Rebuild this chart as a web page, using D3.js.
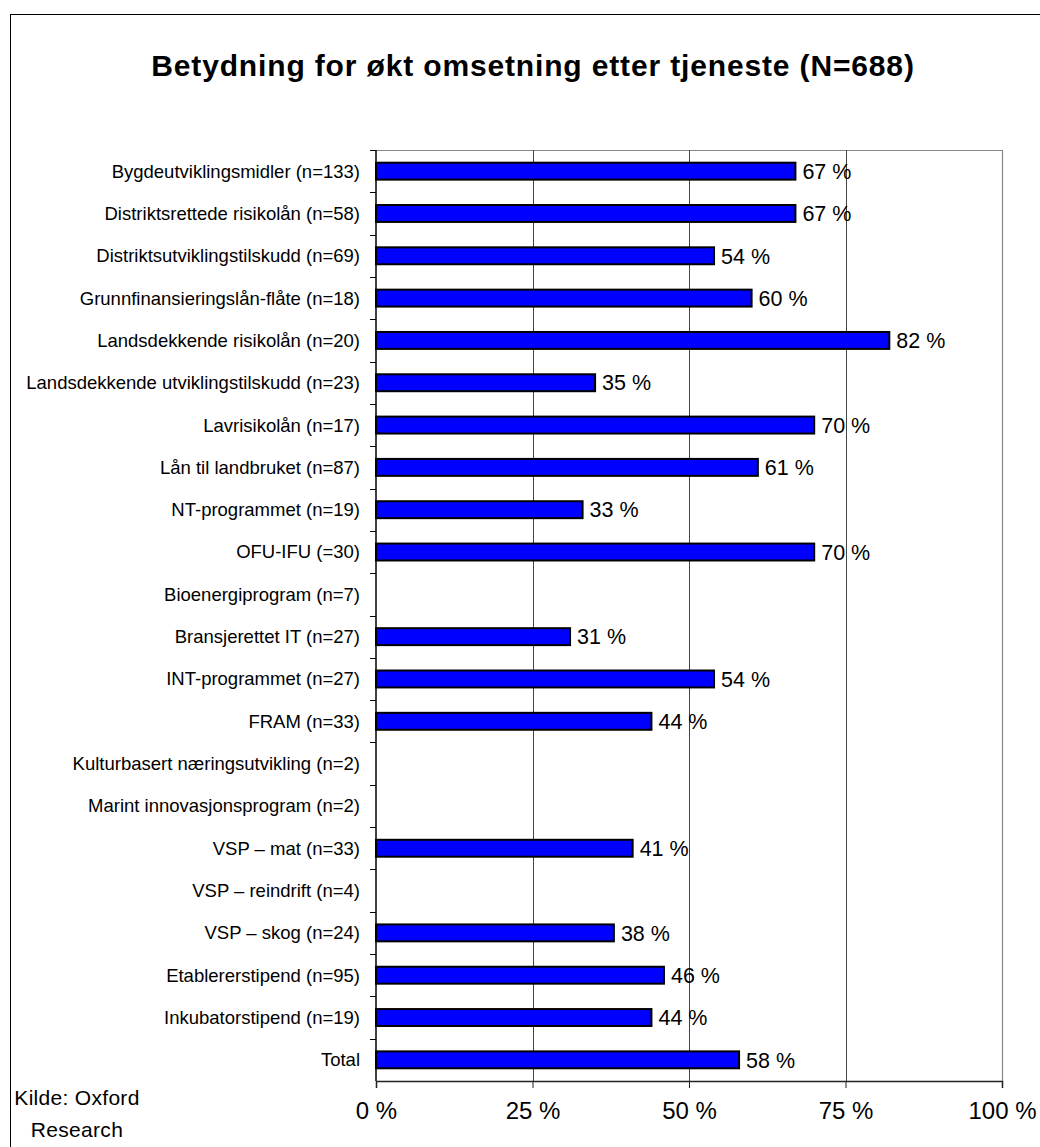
<!DOCTYPE html>
<html>
<head>
<meta charset="utf-8">
<script src="https://cdn.jsdelivr.net/npm/d3@7"></script>
<style>
  body { margin: 0; background: #fff; }
  text { font-family: "Liberation Sans", Arial, sans-serif; fill: #000; }
</style>
</head>
<body>
<svg id="chart" width="1040" height="1147"></svg>
<script>
const categories = [
  "Bygdeutviklingsmidler (n=133)",
  "Distriktsrettede risikolån (n=58)",
  "Distriktsutviklingstilskudd (n=69)",
  "Grunnfinansieringslån-flåte (n=18)",
  "Landsdekkende risikolån (n=20)",
  "Landsdekkende utviklingstilskudd (n=23)",
  "Lavrisikolån (n=17)",
  "Lån til landbruket (n=87)",
  "NT-programmet (n=19)",
  "OFU-IFU (=30)",
  "Bioenergiprogram (n=7)",
  "Bransjerettet IT (n=27)",
  "INT-programmet (n=27)",
  "FRAM (n=33)",
  "Kulturbasert næringsutvikling (n=2)",
  "Marint innovasjonsprogram (n=2)",
  "VSP – mat (n=33)",
  "VSP – reindrift (n=4)",
  "VSP – skog (n=24)",
  "Etablererstipend (n=95)",
  "Inkubatorstipend (n=19)",
  "Total"
];
// share in percent, null = no bar shown
const values = [67, 67, 54, 60, 82, 35, 70, 61, 33, 70, null, 31, 54, 44, null, null, 41, null, 38, 46, 44, 58];
const xTicks = [0, 25, 50, 75, 100];

const title = "Betydning for økt omsetning etter tjeneste (N=688)";

const data = categories.map((c, i) => ({cat: c, v: values[i]}));

const svg = d3.select("#chart");

// outer frame
svg.append("rect")
  .attr("x", 10.5).attr("y", 14.5)
  .attr("width", 1100).attr("height", 1200)
  .attr("fill", "none").attr("stroke", "#000").attr("stroke-width", 1);

const pLeft = 376, pRight = 1002, pTop = 150, pBottom = 1081;

const x = d3.scaleLinear().domain([0, 100]).range([pLeft, pRight]);
const y = d3.scaleBand().domain(categories).range([pTop, pBottom]).paddingInner(0.6).paddingOuter(0.3);
const yb = d3.scaleBand().domain(categories).range([pTop, pBottom]);

// plot border (top / right)
svg.append("path")
  .attr("d", `M${pLeft},${pTop + 0.5}H${pRight + 0.5}V${pBottom}`)
  .attr("fill", "none").attr("stroke", "#888").attr("stroke-width", 1.2);

// vertical gridlines
svg.append("g").selectAll("line")
  .data(xTicks.filter(t => t > 0 && t < 100))
  .join("line")
  .attr("x1", d => Math.round(x(d)) + 0.5).attr("x2", d => Math.round(x(d)) + 0.5)
  .attr("y1", pTop).attr("y2", pBottom)
  .attr("stroke", "#444").attr("stroke-width", 1);

// bars
svg.append("g").selectAll("rect")
  .data(data.filter(d => d.v != null))
  .join("rect")
  .attr("x", x(0))
  .attr("y", d => y(d.cat))
  .attr("width", d => x(d.v) - x(0))
  .attr("height", y.bandwidth())
  .attr("fill", "#0000ff")
  .attr("stroke", "#000").attr("stroke-width", 2);

// value labels
svg.append("g").selectAll("text")
  .data(data.filter(d => d.v != null))
  .join("text")
  .attr("x", d => x(d.v) + 7)
  .attr("y", d => y(d.cat) + y.bandwidth() / 2)
  .attr("dy", "0.36em")
  .attr("font-size", 21.5)
  .text(d => d.v + " %");

// left axis with ticks on band boundaries
const yAxis = svg.append("g");
yAxis.append("line")
  .attr("x1", pLeft).attr("x2", pLeft).attr("y1", pTop).attr("y2", pBottom)
  .attr("stroke", "#000").attr("stroke-width", 1.5);
yAxis.selectAll("line.tk")
  .data(categories)
  .join("line").attr("class", "tk")
  .attr("x1", pLeft - 6).attr("x2", pLeft)
  .attr("y1", d => Math.round(yb(d)) + 0.5).attr("y2", d => Math.round(yb(d)) + 0.5)
  .attr("stroke", "#000");
yAxis.selectAll("text")
  .data(categories)
  .join("text")
  .attr("x", 360)
  .attr("y", d => yb(d) + yb.bandwidth() / 2)
  .attr("dy", "0.35em")
  .attr("text-anchor", "end")
  .attr("font-size", 18.5)
  .text(d => d);

// bottom axis
const xAxis = svg.append("g").attr("transform", `translate(0,${pBottom})`)
  .call(d3.axisBottom(x).tickValues(xTicks).tickSize(7).tickPadding(14).tickFormat(d => d + " %"));
xAxis.select(".domain").attr("stroke", "#222").attr("stroke-width", 1.5);
xAxis.selectAll(".tick line").attr("stroke", "#222");
xAxis.selectAll(".tick text")
  .attr("font-size", 24)
  .attr("font-family", "'Liberation Sans', Arial, sans-serif")
  .attr("fill", "#000");

// title
svg.append("text")
  .attr("x", 533).attr("y", 76)
  .attr("text-anchor", "middle")
  .attr("font-size", 30).attr("font-weight", "bold")
  .attr("letter-spacing", 0.85)
  .text(title);

// source
const src = svg.append("text").attr("font-size", 21).attr("text-anchor", "middle")
  .attr("letter-spacing", 0.3);
src.append("tspan").attr("x", 77).attr("y", 1105).text("Kilde: Oxford");
src.append("tspan").attr("x", 77).attr("y", 1137).text("Research");
</script>
</body>
</html>
